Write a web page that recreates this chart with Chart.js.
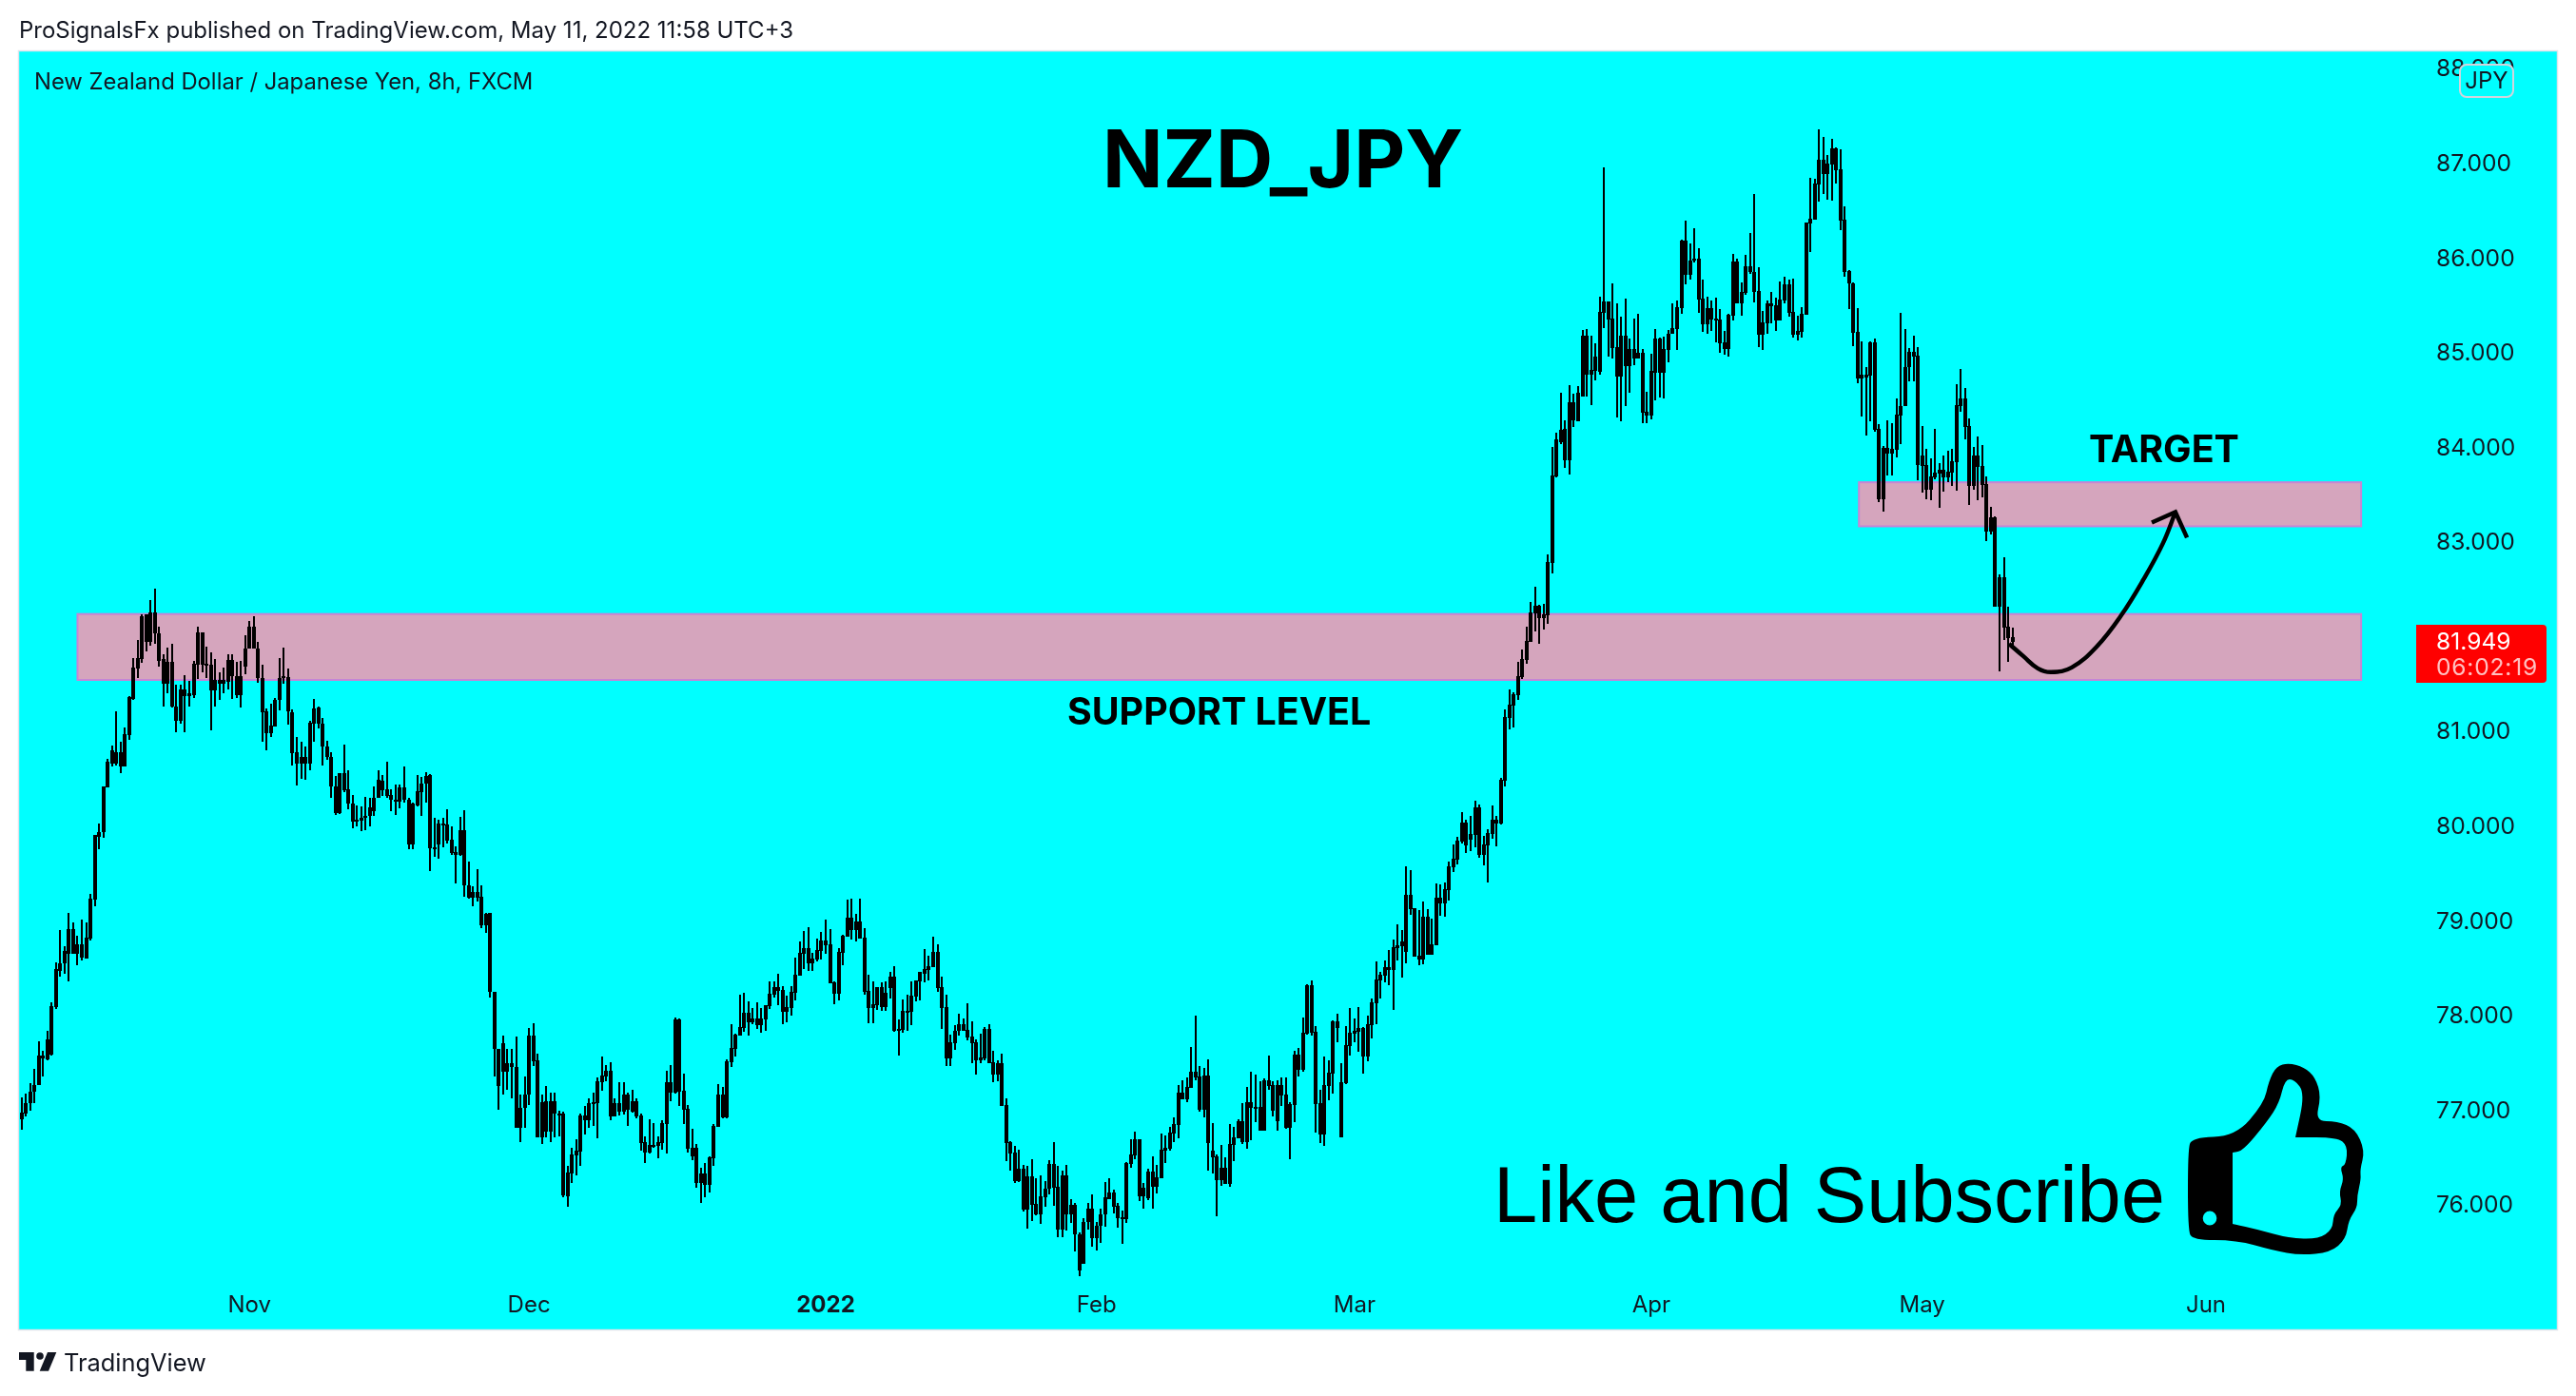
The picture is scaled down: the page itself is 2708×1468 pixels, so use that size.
<!DOCTYPE html>
<html><head><meta charset="utf-8">
<style>
html,body{margin:0;padding:0;background:#fff;width:2708px;height:1468px;overflow:hidden;font-family:Inter,"Noto Sans",sans-serif;color:#131722}
#c{position:absolute;left:0;top:0}
.t{position:absolute;white-space:nowrap;transform:translateY(-50%);line-height:1}
#badge{position:absolute;left:2585px;top:67px;width:54px;height:32px;border:2px solid #d1d4dc;border-radius:8px;background:#0ff;text-align:center;font-size:24px;line-height:32px}
#tag{position:absolute;left:2540px;top:657px;width:137px;height:61px;background:#f00;border-radius:0 4px 4px 0}
</style>
</head><body>
<canvas id="c" width="2708" height="1468"></canvas>
<div class="t" style="left:20px;top:32px;font-size:24px">ProSignalsFx published on TradingView.com, May 11, 2022 11:58 UTC+3</div>
<div class="t" style="left:36px;top:86px;font-size:23.8px">New Zealand Dollar / Japanese Yen, 8h, FXCM</div>
<div class="t" style="left:1159px;top:167px;font-size:83.4px;font-weight:700;color:#000">NZD_JPY</div>
<div class="t" style="left:1122px;top:749px;font-size:39.4px;font-weight:700;color:#000">SUPPORT LEVEL</div>
<div class="t" style="left:2196px;top:473px;font-size:39.4px;font-weight:700;color:#000">TARGET</div>
<div class="t" style="left:1570px;top:1256px;font-size:83px;font-family:'Liberation Sans',sans-serif;color:#000">Like and Subscribe</div>
<div class="t" style="left:67px;top:1433px;font-size:25.4px">TradingView</div>
<div id="badge">JPY</div>
<div id="tag"></div>
<div class="t" style="left:2561px;top:674px;font-size:24.6px;color:#fff">81.949</div>
<div class="t" style="left:2561px;top:701px;font-size:24.6px;letter-spacing:.8px;color:#ffc0c0">06:02:19</div>
<script src="https://cdn.jsdelivr.net/npm/chart.js@4"></script>
<script>
// Each row: [wick high, body top, body bottom, wick low] (all candles are black, so open/close order is not visible)
const octBars=[[77.13,76.97,76.90,76.79],[77.17,77.07,76.96,76.93],[77.28,77.19,77.07,76.99],[77.43,77.26,77.19,77.07],[77.72,77.57,77.26,77.26],[77.62,77.57,77.54,77.35],[77.83,77.74,77.53,77.52],[78.13,78.09,77.58,77.57],[78.56,78.49,78.08,78.06],[78.90,78.55,78.47,78.41],[78.73,78.68,78.55,78.44],[79.08,78.91,78.65,78.36],[78.98,78.91,78.65,78.65],[78.84,78.75,78.65,78.53],[79.01,78.75,78.61,78.58],[78.98,78.82,78.60,78.60],[79.28,79.23,78.81,78.79],[79.90,79.90,79.22,79.15],[80.02,79.93,79.88,79.75],[80.41,80.41,79.93,79.87],[80.70,80.67,80.40,80.40],[80.85,80.79,80.65,80.62],[81.21,80.77,80.65,80.63],[80.89,80.77,80.62,80.55],[81.04,80.97,80.62,80.62],[81.37,81.36,80.96,80.91],[81.77,81.67,81.34,81.33],[81.96,81.77,81.66,81.56],[82.23,82.21,81.76,81.72],[82.23,82.23,81.94,81.84],[82.38,82.25,81.94,81.90],[82.50,82.25,82.03,81.92],[82.10,82.03,81.74,81.68],[81.81,81.76,81.50,81.26],[81.88,81.73,81.50,81.40],[81.92,81.73,81.26,81.25],[81.49,81.26,81.11,80.99],[81.49,81.44,81.11,81.08],[81.59,81.44,81.37,80.99],[81.53,81.40,81.37,81.26],[81.74,81.71,81.38,81.35],[82.10,82.04,81.70,81.55],[82.04,82.04,81.70,81.62],[81.89,81.71,81.69,81.56],[81.83,81.70,81.43,81.01],[81.76,81.54,81.43,81.26],[81.62,81.54,81.50,81.33],[81.67,81.54,81.50,81.40],[81.81,81.75,81.52,81.44],[81.81,81.75,81.58,81.34],[81.73,81.58,81.38,81.35],[81.74,81.58,81.38,81.25],[82.01,81.87,81.68,81.60]];
const novBars=[[82.16,82.10,81.87,81.87],[82.21,82.10,81.87,81.87],[81.94,81.87,81.56,81.51],[81.70,81.56,81.20,80.89],[81.24,81.21,80.98,80.79],[81.29,81.06,80.98,80.94],[81.35,81.33,81.05,81.05],[81.77,81.56,81.33,81.22],[81.88,81.58,81.56,81.50],[81.66,81.57,81.21,81.07],[81.23,81.20,80.76,80.63],[80.94,80.77,80.65,80.42],[80.89,80.72,80.65,80.49],[80.84,80.72,80.65,80.48],[81.11,81.09,80.65,80.58],[81.34,81.24,81.08,80.89],[81.26,81.25,81.08,81.03],[81.14,81.08,80.84,80.63],[80.90,80.84,80.72,80.69],[80.77,80.72,80.41,80.29],[80.52,80.41,80.13,80.11],[80.55,80.55,80.13,80.12],[80.86,80.55,80.37,80.35],[80.58,80.38,80.23,80.17],[80.32,80.23,80.04,79.97],[80.21,80.06,80.04,79.99],[80.20,80.08,80.05,79.94],[80.30,80.10,80.08,79.95],[80.29,80.19,80.10,79.99],[80.41,80.29,80.15,80.10],[80.58,80.48,80.29,80.29],[80.53,80.47,80.37,80.31],[80.67,80.38,80.31,80.29],[80.38,80.32,80.27,80.15],[80.43,80.27,80.25,80.11],[80.43,80.40,80.25,80.18],[80.62,80.40,80.27,80.24],[80.29,80.27,79.80,79.75],[80.24,80.23,79.80,79.75],[80.53,80.36,80.21,80.20],[80.51,80.44,80.35,80.10],[80.56,80.52,80.44,80.24],[80.54,80.53,79.76,79.52],[80.08,79.77,79.75,79.67],[80.06,80.02,79.80,79.65],[80.08,80.02,80.01,79.77],[80.17,80.01,79.84,79.81],[79.99,79.85,79.71,79.69],[79.78,79.72,79.69,79.39],[80.09,79.95,79.69,79.68],[80.16,79.95,79.37,79.25],[79.62,79.37,79.24,79.23],[79.36,79.30,79.24,79.15],[79.54,79.30,79.24,79.20],[79.37,79.25,78.95,78.92],[79.08,79.07,78.95,78.87],[79.08,79.08,78.24,78.18],[78.24,78.24,77.64,77.35],[77.64,77.64,77.25,77.00],[77.78,77.70,77.40,77.16],[77.64,77.49,77.40,77.21],[77.64,77.49,77.45,77.12],[77.77,77.45,76.81,76.81],[77.16,77.02,76.81,76.66],[77.35,77.16,77.02,76.81]];
const decBars=[[77.86,77.78,77.16,77.05],[77.91,77.78,77.51,77.46],[77.59,77.52,76.71,76.71],[77.16,77.08,76.71,76.64],[77.25,77.09,76.77,76.71],[77.18,77.09,76.77,76.66],[77.18,77.09,76.96,76.71],[76.99,76.96,76.94,76.72],[76.98,76.96,76.10,76.08],[76.41,76.34,76.09,75.98],[76.60,76.53,76.33,76.23],[76.69,76.57,76.52,76.31],[76.96,76.94,76.56,76.41],[77.04,76.94,76.89,76.74],[77.12,77.07,76.89,76.81],[77.18,77.08,77.06,76.83],[77.34,77.30,77.07,76.70],[77.56,77.36,77.29,77.20],[77.47,77.41,77.35,77.30],[77.50,77.41,76.93,76.89],[77.12,77.07,76.93,76.93],[77.29,77.07,76.98,76.94],[77.29,77.16,76.98,76.95],[77.18,77.16,77.00,76.83],[77.21,77.09,76.98,76.97],[77.12,77.09,76.93,76.91],[76.96,76.94,76.65,76.57],[76.72,76.66,76.55,76.44],[76.90,76.63,76.55,76.54],[76.86,76.63,76.62,76.60],[76.72,76.66,76.62,76.49],[76.89,76.86,76.65,76.58],[77.41,77.29,76.85,76.54],[77.47,77.29,77.18,77.09],[77.97,77.95,77.18,77.17],[77.96,77.95,77.19,77.04],[77.38,77.20,77.00,76.85],[77.05,77.01,76.59,76.55],[76.80,76.60,76.51,76.47],[76.64,76.60,76.23,76.18],[76.39,76.33,76.23,76.02],[76.44,76.33,76.21,76.08],[76.51,76.50,76.21,76.13],[76.85,76.83,76.49,76.41],[77.27,77.16,76.82,76.82],[77.24,77.16,76.92,76.91],[77.53,77.51,76.92,76.91],[77.90,77.65,77.50,77.45],[77.80,77.79,77.64,77.56],[78.21,77.87,77.78,77.78],[78.23,78.02,77.86,77.82],[78.14,78.02,77.92,77.78],[78.07,77.96,77.92,77.90],[78.13,77.96,77.89,77.85],[78.07,77.96,77.89,77.81],[78.10,78.10,77.95,77.83],[78.36,78.22,78.09,78.06],[78.35,78.29,78.21,78.18],[78.44,78.29,78.25,78.10],[78.30,78.26,78.03,77.90],[78.20,78.08,78.03,77.92],[78.30,78.24,78.07,77.99],[78.61,78.43,78.23,78.15],[78.78,78.66,78.42,78.42],[78.89,78.71,78.65,78.49],[78.93,78.71,78.55,78.47],[78.66,78.60,78.55,78.47],[78.81,78.69,78.59,78.57],[78.88,78.79,78.68,78.59]];
const janBars=[[79.01,78.79,78.74,78.65],[78.91,78.75,78.33,78.33],[78.36,78.34,78.22,78.11],[78.71,78.67,78.22,78.15],[78.85,78.84,78.66,78.53],[79.22,79.03,78.83,78.83],[79.23,79.03,78.90,78.80],[79.07,78.99,78.90,78.78],[79.23,78.99,78.81,78.81],[78.92,78.82,78.24,78.21],[78.43,78.25,78.07,77.91],[78.36,78.11,78.07,77.91],[78.29,78.29,78.10,78.05],[78.34,78.29,78.08,78.04],[78.36,78.23,78.08,78.04],[78.46,78.41,78.28,78.17],[78.52,78.41,77.83,77.82],[77.95,77.85,77.83,77.57],[78.16,78.04,77.84,77.81],[78.21,78.04,78.03,77.83],[78.35,78.20,78.03,77.89],[78.37,78.37,78.19,78.14],[78.46,78.46,78.36,78.15],[78.70,78.49,78.44,78.34],[78.63,78.52,78.48,78.37],[78.83,78.67,78.51,78.51],[78.75,78.67,78.28,78.24],[78.41,78.29,78.07,77.85],[78.21,78.08,77.54,77.46],[77.79,77.71,77.54,77.46],[77.89,77.83,77.70,77.63],[78.01,77.90,77.83,77.78],[77.96,77.90,77.83,77.83],[78.12,77.84,77.76,77.73],[77.93,77.77,77.70,77.49],[77.74,77.71,77.52,77.37],[77.80,77.55,77.52,77.49],[77.87,77.85,77.54,77.52],[77.90,77.85,77.49,77.49],[77.62,77.50,77.37,77.29],[77.52,77.49,77.37,77.30],[77.59,77.49,77.04,77.04],[77.12,77.05,76.65,76.46],[76.67,76.66,76.54,76.36],[76.62,76.55,76.25,76.23],[76.58,76.38,76.25,76.24],[76.42,76.38,75.95,75.93],[76.41,76.30,75.95,75.74],[76.48,76.30,76.00,75.82],[76.28,76.01,75.89,75.88],[76.31,76.09,75.89,75.79],[76.25,76.17,76.08,75.98],[76.47,76.43,76.17,76.11],[76.66,76.43,76.18,75.99],[76.41,76.19,75.73,75.65],[76.36,76.31,75.73,75.65],[76.42,76.31,75.90,75.72],[76.06,76.00,75.90,75.80],[76.02,76.00,75.68,75.50],[75.70,75.68,75.30,75.24],[75.85,75.81,75.37,75.37],[76.02,75.96,75.81,75.73],[76.11,75.96,75.64,75.55]];
const febBars=[[75.81,75.77,75.64,75.51],[75.96,75.90,75.77,75.59],[76.24,76.08,75.89,75.76],[76.28,76.13,76.06,76.06],[76.16,76.13,75.98,75.91],[76.02,75.99,75.85,75.75],[75.94,75.86,75.84,75.58],[76.45,76.44,75.84,75.80],[76.69,76.53,76.43,76.39],[76.77,76.69,76.52,76.48],[76.69,76.69,76.09,76.04],[76.23,76.18,76.09,75.96],[76.38,76.35,76.07,76.05],[76.51,76.35,76.19,75.96],[76.42,76.29,76.19,76.12],[76.75,76.58,76.28,76.28],[76.73,76.60,76.57,76.44],[76.82,76.76,76.59,76.57],[76.92,76.85,76.75,76.66],[77.26,77.18,76.84,76.70],[77.31,77.18,77.11,77.11],[77.34,77.24,77.11,77.08],[77.66,77.40,77.23,77.23],[77.99,77.40,77.34,77.31],[77.46,77.35,77.00,76.98],[77.44,77.36,77.00,76.92],[77.53,77.36,76.65,76.36],[76.86,76.57,76.50,76.33],[76.53,76.51,76.26,75.87],[76.63,76.39,76.26,76.20],[76.50,76.39,76.22,76.22],[76.85,76.64,76.22,76.19],[76.82,76.71,76.63,76.46],[76.90,76.88,76.70,76.70],[77.07,76.88,76.66,76.64],[77.24,77.08,76.66,76.59],[77.40,77.08,77.02,76.68],[77.37,77.03,77.02,76.87],[77.30,77.03,76.78,76.78],[77.33,77.31,76.78,76.78],[77.57,77.31,77.25,77.21],[77.30,77.26,76.99,76.93],[77.31,77.26,76.88,76.78],[77.34,77.26,77.15,77.04],[77.34,77.16,76.81,76.80],[77.08,77.06,76.81,76.48],[77.62,77.58,77.05,76.87],[77.65,77.58,77.42,77.35],[77.97,77.81,77.42,77.40],[78.32,78.31,77.80,77.79],[78.37,78.31,77.81,77.78],[77.88,77.82,77.06,76.76],[77.21,77.07,76.74,76.65],[77.56,77.26,76.74,76.62],[77.52,77.39,77.25,77.10],[77.94,77.93,77.38,77.17],[78.01,77.93,77.86,77.71],[77.49,77.29,76.71,76.71],[77.88,77.68,77.28,77.27],[78.07,77.81,77.67,77.57]];
const marBars=[[77.96,77.83,77.80,77.71],[78.08,77.86,77.82,77.61],[77.87,77.86,77.56,77.38],[77.99,77.90,77.56,77.51],[78.17,78.13,77.89,77.75],[78.57,78.38,78.12,77.90],[78.46,78.43,78.37,78.17],[78.58,78.51,78.42,78.34],[78.69,78.51,78.48,78.31],[78.80,78.72,78.48,78.05],[78.96,78.74,78.71,78.58],[78.90,78.78,78.73,78.40],[79.57,79.27,78.67,78.55],[79.53,79.27,79.12,79.06],[79.13,79.13,78.62,78.62],[79.11,78.63,78.59,78.53],[79.20,79.04,78.59,78.54],[79.12,79.04,78.64,78.64],[79.02,78.75,78.64,78.64],[79.39,79.24,78.74,78.74],[79.38,79.24,79.18,79.05],[79.40,79.33,79.18,79.04],[79.62,79.57,79.32,79.21],[79.80,79.65,79.56,79.51],[79.88,79.84,79.64,79.59],[80.14,80.03,79.83,79.81],[80.06,80.03,79.79,79.71],[80.10,79.91,79.85,79.73],[80.26,80.19,79.90,79.77],[80.22,80.19,79.69,79.66],[79.89,79.80,79.69,79.58],[79.96,79.92,79.79,79.40],[80.21,80.06,79.91,79.86],[80.10,80.06,80.02,79.78],[80.50,80.48,80.02,80.01],[81.23,81.15,80.47,80.41],[81.44,81.28,81.14,81.02],[81.41,81.39,81.27,81.04],[81.73,81.58,81.38,81.33],[81.86,81.76,81.57,81.55],[82.10,81.95,81.75,81.71],[82.36,82.25,81.94,81.94],[82.52,82.32,82.24,82.05],[82.33,82.32,82.19,81.92],[82.34,82.23,82.19,82.07],[82.86,82.78,82.22,82.13],[84.00,83.70,82.77,82.66],[84.15,84.08,83.69,83.68],[84.57,84.18,84.05,84.03],[84.28,84.19,83.86,83.78],[84.65,84.47,83.86,83.71],[84.56,84.47,84.28,84.21],[84.64,84.57,84.27,84.27],[85.23,85.17,84.53,84.53],[85.24,85.17,84.76,84.53],[85.17,84.81,84.76,84.44],[85.09,84.95,84.80,84.70],[85.58,85.42,84.79,84.76],[86.95,85.53,85.41,85.25],[85.53,85.53,85.34,84.95],[85.73,85.35,85.04,84.93],[85.51,85.05,84.74,84.31],[85.37,85.17,84.74,84.27],[85.56,85.17,84.85,84.43],[85.14,85.03,84.85,84.57],[85.35,85.03,84.93,84.86],[85.40,84.99,84.93,84.93],[85.03,84.99,84.36,84.25],[84.58,84.37,84.33,84.25]];
const aprBars=[[84.98,84.80,84.33,84.29],[85.24,85.14,84.78,84.49],[85.15,85.14,84.78,84.52],[85.16,85.03,84.78,84.51],[85.23,85.19,85.02,84.89],[85.51,85.25,85.19,85.19],[85.54,85.47,85.24,85.02],[86.19,86.18,85.46,85.40],[86.39,86.18,85.82,85.71],[86.15,85.97,85.82,85.77],[86.31,85.99,85.98,85.95],[86.10,85.99,85.55,85.41],[85.77,85.56,85.29,85.21],[85.58,85.46,85.29,85.19],[85.54,85.46,85.34,85.22],[85.57,85.35,85.34,85.10],[85.45,85.34,85.09,84.99],[85.22,85.10,85.03,84.97],[85.40,85.39,85.03,84.95],[86.04,85.96,85.38,85.33],[85.99,85.96,85.51,85.51],[85.74,85.63,85.51,85.38],[86.03,85.91,85.62,85.60],[86.26,85.91,85.85,85.83],[86.67,85.85,85.63,85.52],[85.90,85.64,85.18,85.05],[85.43,85.31,85.18,85.02],[85.54,85.51,85.30,85.19],[85.63,85.51,85.48,85.30],[85.57,85.49,85.33,85.22],[85.75,85.55,85.33,85.33],[85.80,85.72,85.54,85.51],[85.77,85.72,85.41,85.37],[85.78,85.42,85.18,85.15],[85.38,85.22,85.18,85.12],[85.47,85.40,85.21,85.15],[86.37,86.37,85.39,85.39],[86.84,86.41,86.36,86.06],[86.83,86.78,86.40,86.40],[87.35,87.03,86.77,86.59],[87.27,87.03,86.88,86.67],[87.08,86.99,86.88,86.61],[87.25,87.15,86.98,86.60],[87.16,87.15,86.92,86.78],[87.14,86.93,86.39,86.29],[86.54,86.40,85.85,85.80],[85.87,85.86,85.73,85.45],[85.74,85.73,85.20,85.06],[85.46,85.21,84.72,84.67],[85.11,84.76,84.72,84.32],[84.84,84.76,84.73,84.12],[85.11,85.10,84.75,84.27],[85.14,85.10,84.18,84.16],[84.24,84.19,83.45,83.42],[84.01,83.99,83.45,83.32],[84.28,83.99,83.93,83.70],[84.25,83.98,83.93,83.70],[84.51,84.34,83.97,83.89],[85.41,84.43,84.33,84.03],[85.24,84.84,84.43,84.43],[85.04,85.00,84.84,84.69],[85.17,85.00,84.95,84.69],[85.05,84.96,83.81,83.65]];
const mayBars=[[84.22,83.91,83.80,83.52],[83.98,83.81,83.55,83.45],[83.88,83.69,83.55,83.44],[84.19,83.73,83.68,83.66],[83.83,83.76,83.72,83.36],[83.91,83.76,83.68,83.53],[83.96,83.74,83.68,83.63],[83.98,83.85,83.73,83.59],[84.66,84.44,83.84,83.54],[84.82,84.51,84.43,84.37],[84.62,84.51,84.21,84.08],[84.30,84.22,83.59,83.39],[84.00,83.91,83.59,83.55],[84.11,83.91,83.79,83.44],[84.02,83.80,83.60,83.47],[83.69,83.61,83.10,83.00],[83.37,83.25,83.10,83.07],[83.26,83.25,82.31,82.31],[82.65,82.62,82.31,81.63],[82.83,82.62,82.09,81.96],[82.31,82.10,81.98,81.73],[82.09,81.99,81.94,81.89]];

const priceTicks=[76,77,78,79,80,81,82,83,84,85,86,87,88];
const timeTickBars=[53,118,187,250,310,379,442,508];
const timeTickLabels=['Nov','Dec','2022','Feb','Mar','Apr','May','Jun'];
// [first bar, last bar, upper price, lower price]
const supportZone=[13,544.1,82.234,81.538];
const targetZone=[427.3,544.1,83.625,83.16];
const curveBars=[462.2,465.5,468.9,472,476.8,482.6,488.3,493.5,498,500.9];
const curvePrices=[81.92,81.79,81.66,81.62,81.67,81.89,82.22,82.60,82.98,83.31];
const headBars=[495.4,500.9,503.6];
const headPrices=[83.20,83.31,83.04];

const bars=[...octBars,...novBars,...decBars,...janBars,...febBars,...marBars,...aprBars,...mayBars];
const wicks=bars.map((r,i)=>({x:i,y:[r[3],r[0]]}));
const bodies=bars.map((r,i)=>({x:i,y:[r[2],r[1]]}));
const curve=curveBars.map((x,i)=>({x,y:curvePrices[i]}));
const head=headBars.map((x,i)=>({x,y:headPrices[i]}));

function smooth(ctx,pts){
  const n=pts.length;
  const m=(a,b)=>[(a[0]+b[0])/2,(a[1]+b[1])/2];
  let s=m(pts[n-1],pts[0]);ctx.moveTo(s[0],s[1]);
  for(let i=0;i<n;i++){const e=m(pts[i],pts[(i+1)%n]);ctx.quadraticCurveTo(pts[i][0],pts[i][1],e[0],e[1]);}
  ctx.closePath();
}
const thumbOuter=[[2304,1196],[2350,1195],[2380,1160],[2385,1137],[2393,1121],[2406,1118],[2422,1122],[2434,1133],[2440,1153],[2434,1179],[2457,1179],[2476,1187],[2486,1210],[2481,1230],[2482,1240],[2478,1257],[2478,1270],[2469,1283],[2466,1303],[2450,1317],[2418,1320],[2390,1315],[2351,1304],[2305,1304],[2300,1293],[2300,1210]];
const thumbInner=[[2347,1212],[2347,1212],[2358,1210],[2383,1180],[2396,1160],[2402,1135],[2412,1135],[2423,1150],[2413,1196],[2413,1196],[2457,1196],[2468,1205],[2466,1225],[2460,1227],[2464,1240],[2459,1253],[2462,1267],[2453,1277],[2452,1293],[2437,1303],[2406,1302],[2374,1293],[2347,1287],[2347,1287]];

const decor={
  id:'decor',
  afterDatasetsUpdate(ch){
    // snap candle edges to whole device pixels so they stay crisp like the reference
    ch.data.datasets.forEach((d,i)=>{
      if(d.type==='line')return;
      ch.getDatasetMeta(i).data.forEach(e=>{
        e.x=Math.round(e.x);
        e.y=Math.round(e.y);
        e.base=Math.round(e.base);
        if(e.base-e.y<2)e.base=e.y+2;
      });
    });
  },
  beforeDraw(ch){
    const c=ch.ctx;
    c.save();
    c.fillStyle='#00ffff';c.fillRect(20,54,2668,1344);
    c.strokeStyle='#e0e3eb';c.lineWidth=1.5;c.strokeRect(19.5,53.5,2669,1345);
    c.restore();
  },
  beforeDatasetsDraw(ch){
    const c=ch.ctx,x=ch.scales.x,y=ch.scales.y;
    c.save();
    [supportZone,targetZone].forEach(z=>{
      const l=x.getPixelForValue(z[0]),r=x.getPixelForValue(z[1]),t=y.getPixelForValue(z[2]),b=y.getPixelForValue(z[3]);
      c.fillStyle='#d5a5bd';c.fillRect(l,t,r-l,b-t);
      c.strokeStyle='#c585d5';c.lineWidth=2;c.strokeRect(l,t,r-l,b-t);
    });
    c.restore();
  },
  afterDraw(ch){
    const c=ch.ctx;
    c.save();
    c.fillStyle='#000';
    c.beginPath();smooth(c,thumbOuter);smooth(c,thumbInner);
    c.ellipse(2323,1281,7.3,7.5,0,0,Math.PI*2);
    c.fill('evenodd');
    // TradingView mark
    c.fillStyle='#131722';
    c.beginPath();c.moveTo(20,1422);c.lineTo(35.7,1422);c.lineTo(35.7,1441.7);c.lineTo(27.3,1441.7);c.lineTo(27.3,1430);c.lineTo(20,1430);c.closePath();c.fill();
    c.beginPath();c.arc(42,1426,3.8,0,Math.PI*2);c.fill();
    c.beginPath();c.moveTo(59.3,1422);c.lineTo(51,1441.7);c.lineTo(41.7,1441.7);c.lineTo(50,1422);c.closePath();c.fill();
    c.restore();
  }
};

new Chart(document.getElementById('c'),{
  type:'bar',
  data:{datasets:[
    {type:'line',data:curve,borderColor:'#000',borderWidth:4.5,pointRadius:0,tension:0.4,fill:false,order:0,clip:false},
    {type:'line',data:head,borderColor:'#000',borderWidth:4.5,pointRadius:0,tension:0,fill:false,order:0,clip:false},
    {data:wicks,backgroundColor:'#000',barThickness:2,grouped:false,inflateAmount:0,order:2},
    {data:bodies,backgroundColor:'#000',barThickness:4,grouped:false,inflateAmount:0,order:1}
  ]},
  options:{
    responsive:false,animation:false,devicePixelRatio:1,
    layout:{padding:{left:20,top:54,right:20,bottom:70}},
    plugins:{legend:{display:false},tooltip:{enabled:false},title:{display:false}},
    scales:{
      x:{type:'linear',offset:false,min:-0.6,max:556.9,
        grid:{display:false,drawTicks:false},border:{display:false},
        afterBuildTicks(s){s.ticks=timeTickBars.map(v=>({value:v}));},
        afterFit(s){s.height=48;},
        ticks:{autoSkip:false,maxRotation:0,padding:8,color:'#131722',
          callback:v=>timeTickLabels[timeTickBars.indexOf(v)],
          font:ctx=>({family:'Inter',size:24,weight:(ctx.tick&&timeTickLabels[timeTickBars.indexOf(ctx.tick.value)]==='2022')?'bold':'normal'})}
      },
      y:{type:'linear',position:'right',min:75.162,max:88.175,
        grid:{display:false,drawTicks:false},border:{display:false},
        afterBuildTicks(s){s.ticks=priceTicks.map(v=>({value:v}));},
        afterFit(s){s.width=148;},
        ticks:{autoSkip:false,padding:21,labelOffset:1.5,color:'#131722',callback:v=>v.toFixed(3),font:{family:'Inter',size:24.6}}
      }
    }
  },
  plugins:[decor]
});
</script>
</body></html>
